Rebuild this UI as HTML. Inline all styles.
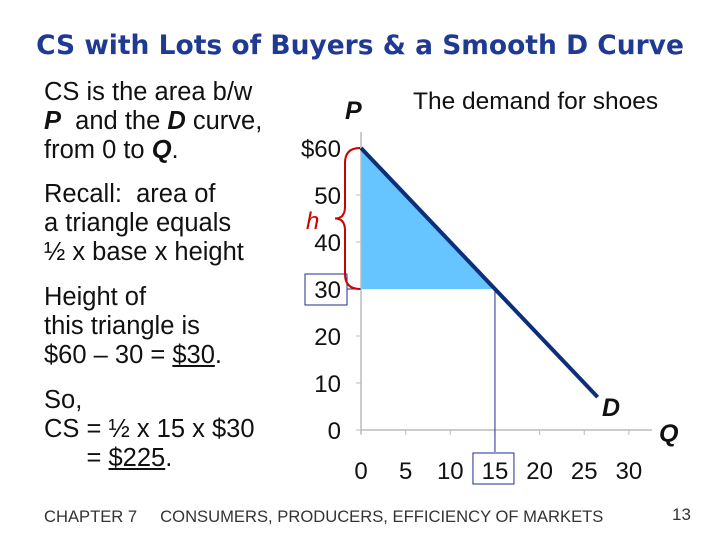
<!DOCTYPE html>
<html><head><meta charset="utf-8"><style>
body{margin:0;width:720px;height:540px;background:#fff;overflow:hidden;font-family:"Liberation Sans",Arial,sans-serif;position:relative}
.t{position:absolute;white-space:nowrap;color:#111}
</style></head><body>
<div class="t" style="left:0;width:720px;text-align:center;top:30px;font-family:'DejaVu Sans',sans-serif;font-weight:bold;font-size:26.5px;color:#1f3a93">CS with Lots of Buyers &amp; a Smooth D Curve</div>
<div class="t" style="left:44px;top:78px;font-size:25.5px;line-height:29px">CS is the area b/w<br><b><i>P</i></b>&nbsp; and the <b><i>D</i></b> curve,<br>from 0 to <b><i>Q</i></b>.</div>
<div class="t" style="left:44px;top:180px;font-size:25.5px;line-height:29px">Recall:&nbsp; area of<br>a triangle equals<br>½ x base x height</div>
<div class="t" style="left:44px;top:283px;font-size:25.5px;line-height:29px">Height of<br>this triangle is<br>$60 – 30 = <u>$30</u>.</div>
<div class="t" style="left:44px;top:386px;font-size:25.5px;line-height:29px">So,<br>CS = ½ x 15 x $30<br>&nbsp;&nbsp;&nbsp;&nbsp;&nbsp;&nbsp;= <u>$225</u>.</div>
<div class="t" style="left:413px;top:88px;font-size:24.5px">The demand for shoes</div>
<div class="t" style="left:44px;top:507px;font-size:16.6px;color:#333">CHAPTER 7&nbsp;&nbsp;&nbsp;&nbsp; CONSUMERS, PRODUCERS, EFFICIENCY OF MARKETS</div>
<div class="t" style="left:672px;top:505px;font-size:17px;color:#333">13</div>
<svg id="c" width="720" height="540" style="position:absolute;left:0;top:0"></svg>
<script>
const xTicks=[0,5,10,15,20,25,30];
const yTicks=[0,10,20,30,40,50,60];
const demandQ=[0,26.5];
const demandP=[60,7];
const eqQ=[15];
const eqP=[30];
const X=q=>361+q*8.93, Y=p=>430-p*4.7;
const s=document.getElementById('c'),NS='http://www.w3.org/2000/svg';
function mk(t,a,txt){const e=document.createElementNS(NS,t);for(const k in a)e.setAttribute(k,a[k]);if(txt!=null)e.textContent=txt;s.appendChild(e);return e;}
let e;
const F="Liberation Sans, Arial, sans-serif";
e=mk('polygon',{points:`${X(0)},${Y(demandP[0])} ${X(0)},${Y(eqP[0])} ${X(eqQ[0])},${Y(eqP[0])}`,fill:'#66c4ff'});


e=mk('line',{x1:X(0),y1:132,x2:X(0),y2:Y(0)+4,stroke:'#bbb','stroke-width':1.5});


e=mk('line',{x1:X(0),y1:Y(0),x2:652,y2:Y(0),stroke:'#bbb','stroke-width':1.5});


xTicks.forEach(v=>{
 e=mk('line',{x1:X(v),y1:Y(0),x2:X(v),y2:Y(0)+5,stroke:'#bbb'});
 
 
 e=mk('text',{x:X(v),y:479,'font-size':24,'text-anchor':'middle','font-family':F,fill:'#111'},v);
 
 
});
yTicks.forEach(v=>{
 e=mk('line',{x1:X(0)-5,y1:Y(v),x2:X(0),y2:Y(v),stroke:'#bbb'});
 
 
 e=mk('text',{x:341,y:Y(v)+9,'font-size':24,'text-anchor':'end','font-family':F,fill:'#111'},(v==60?'$':'')+v);
 
 
});
e=mk('line',{x1:X(eqQ[0]),y1:Y(eqP[0]),x2:X(eqQ[0]),y2:452,stroke:'#1f2f8f','stroke-width':1});


e=mk('line',{x1:347,y1:Y(eqP[0]),x2:X(0),y2:Y(eqP[0]),stroke:'#1f2f8f','stroke-width':1});


e=mk('rect',{x:305,y:Y(eqP[0])-15,width:42,height:31,fill:'none',stroke:'#1f2f8f','stroke-width':1});


e=mk('rect',{x:X(eqQ[0])-22,y:453,width:41,height:31,fill:'none',stroke:'#1f2f8f','stroke-width':1});


e=mk('line',{x1:X(demandQ[0]),y1:Y(demandP[0]),x2:X(demandQ[1]),y2:Y(demandP[1]),stroke:'#0d2f7a','stroke-width':4});


const t=Y(60),b=Y(30),m=(t+b)/2;
e=mk('path',{d:`M360 ${t} Q345 ${t} 345 ${t+15} L345 ${m-12} Q345 ${m} 335 ${m} Q345 ${m} 345 ${m+12} L345 ${b-15} Q345 ${b} 360 ${b}`,fill:'none',stroke:'#c00','stroke-width':2});


e=mk('text',{x:306,y:229,'font-size':24,'font-style':'italic',fill:'#c00','font-family':F},'h');


e=mk('text',{x:345,y:119,'font-size':25,'font-style':'italic','font-weight':'bold',fill:'#111','font-family':F},'P');


e=mk('text',{x:659,y:442,'font-size':25,'font-style':'italic','font-weight':'bold',fill:'#111','font-family':F},'Q');


e=mk('text',{x:602,y:416,'font-size':25,'font-style':'italic','font-weight':'bold',fill:'#111','font-family':F},'D');


</script>
</body></html>
